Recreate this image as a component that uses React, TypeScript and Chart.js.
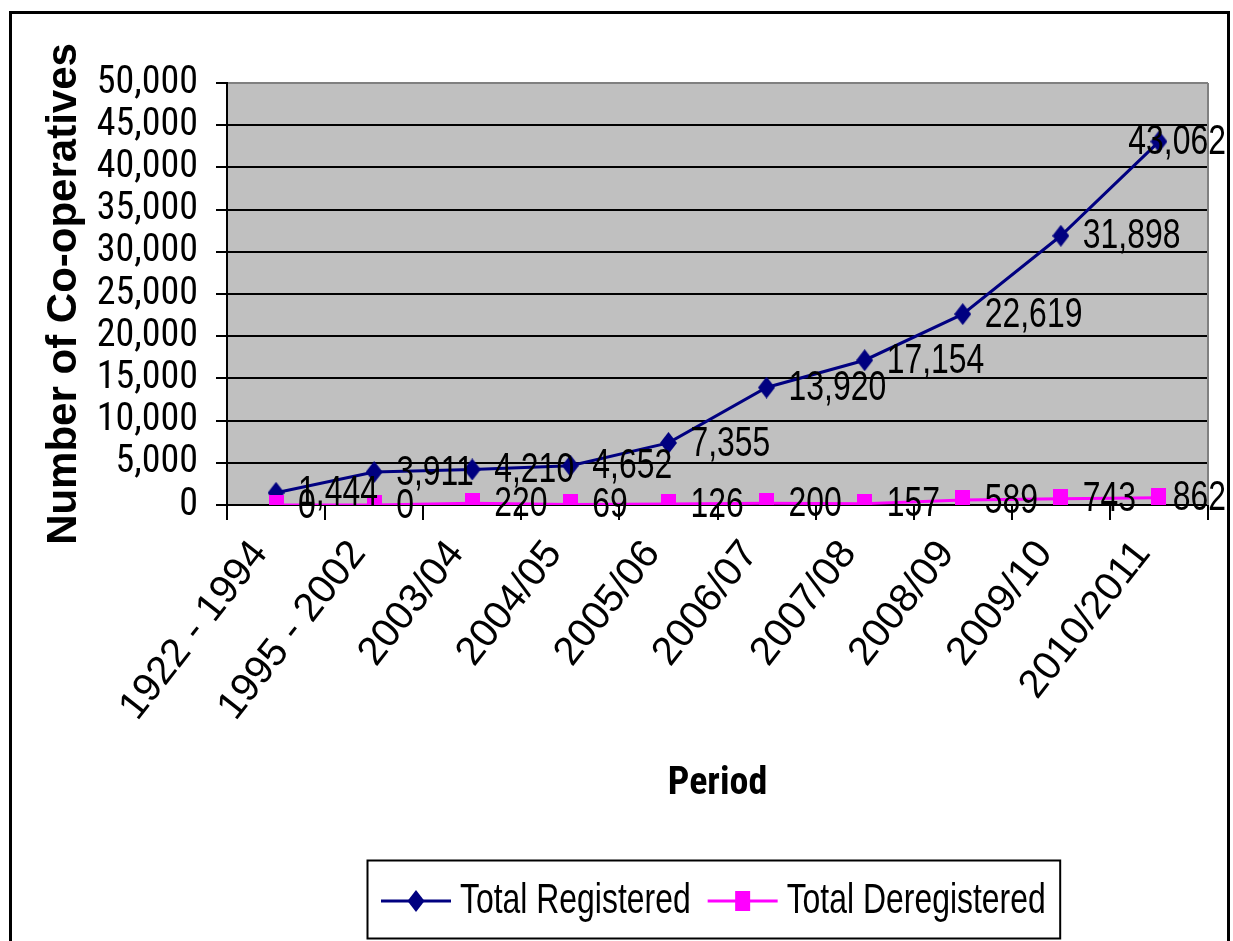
import React, { useEffect, useRef } from 'react';
import { Chart, registerables } from 'chart.js';

Chart.register(...registerables);

const periods = ['1922 - 1994', '1995 - 2002', '2003/04', '2004/05', '2005/06', '2006/07', '2007/08', '2008/09', '2009/10', '2010/2011'];
const registered = [1444, 3911, 4210, 4652, 7355, 13920, 17154, 22619, 31898, 43062];
const deregistered = [0, 0, 220, 69, 126, 200, 157, 589, 743, 862];
const seriesNames = ['Total Registered', 'Total Deregistered'];
const yMin = 0;
const yMax = 50000;
const yStep = 5000;

const COND = "'Roboto Condensed', 'DejaVu Sans Condensed', sans-serif";
const SANS = "'Liberation Sans', Arial, sans-serif";
const NAVY = '#000080';
const MAGENTA = '#FF00FF';
const TEXT_SIZE = 42;
const SX = 0.76;

const fmt = (v: number) => Number(v).toLocaleString('en-US');

function scaledText(ctx: CanvasRenderingContext2D, text: string, x: number, y: number) {
  ctx.save();
  ctx.translate(x, y);
  ctx.scale(SX, 1);
  ctx.fillText(text, 0, 0);
  ctx.restore();
}

function drawMarker(ctx: CanvasRenderingContext2D, kind: string, x: number, y: number, color: string) {
  ctx.fillStyle = color;
  ctx.beginPath();
  if (kind === 'diamond') {
    ctx.moveTo(x, y - 11);
    ctx.lineTo(x + 8.5, y);
    ctx.lineTo(x, y + 11);
    ctx.lineTo(x - 8.5, y);
    ctx.closePath();
  } else {
    ctx.rect(x - 7.5, y - 10, 15, 20);
  }
  ctx.fill();
}

function makeMarker(kind: string, color: string): HTMLCanvasElement {
  const c = document.createElement('canvas');
  c.width = kind === 'diamond' ? 17 : 15;
  c.height = kind === 'diamond' ? 22 : 20;
  const ctx = c.getContext('2d')!;
  drawMarker(ctx, kind, c.width / 2, c.height / 2, color);
  return c;
}

const framePlugin = {
  id: 'frame',
  beforeDraw(chart: any) {
    const { ctx, chartArea: a } = chart;
    ctx.save();
    ctx.fillStyle = '#ffffff';
    ctx.fillRect(0, 0, chart.width, chart.height);
    ctx.fillStyle = '#C0C0C0';
    ctx.fillRect(a.left, a.top, a.right - a.left, a.bottom - a.top);
    ctx.restore();
  },
  beforeDatasetsDraw(chart: any) {
    const { ctx, chartArea: a } = chart;
    ctx.save();
    ctx.strokeStyle = '#808080';
    ctx.lineWidth = 2;
    ctx.beginPath();
    ctx.moveTo(a.right, a.top);
    ctx.lineTo(a.right, a.bottom);
    ctx.stroke();
    ctx.restore();
  },
  afterDatasetsDraw(chart: any) {
    const { ctx } = chart;
    ctx.save();
    ctx.font = `${TEXT_SIZE}px ${SANS}`;
    ctx.fillStyle = '#000';
    ctx.textAlign = 'left';
    ctx.textBaseline = 'middle';
    chart.data.datasets.forEach((ds: any, i: number) => {
      const meta = chart.getDatasetMeta(i);
      meta.data.forEach((pt: any, j: number) => {
        const text = fmt(ds.data[j]);
        const w = ctx.measureText(text).width * SX;
        let x = pt.x + 22;
        const limit = chart.width - 7;
        if (x + w > limit) x = limit - w;
        scaledText(ctx, text, x, pt.y + 1);
      });
    });
    ctx.restore();
  },
  afterDraw(chart: any) {
    const { ctx, chartArea: a } = chart;
    ctx.save();
    // outer frame
    ctx.strokeStyle = '#000';
    ctx.lineWidth = 3;
    ctx.strokeRect(10.5, 12.5, 1218, 1000);

    // legend
    ctx.font = `${TEXT_SIZE}px ${SANS}`;
    const lineLen = 70;
    const gapText = 9;
    const gapItem = 17;
    const padX = 14;
    const items = chart.data.datasets.map((ds: any) => ({
      label: ds.label,
      color: ds.borderColor,
      kind: ds.markerKind,
      w: lineLen + gapText + ctx.measureText(ds.label).width * SX,
    }));
    const total = items.reduce((s: number, it: any) => s + it.w, 0) + gapItem * (items.length - 1) + padX * 2;
    const cx = (a.left + a.right) / 2 - 4;
    const left = Math.round(cx - total / 2);
    const top = chart.height - 81;
    const h = 78;
    ctx.lineWidth = 2;
    ctx.strokeStyle = '#000';
    ctx.strokeRect(left + 0.5, top + 0.5, total, h);
    const cy = top + 41;
    let x = left + padX;
    items.forEach((it: any) => {
      ctx.strokeStyle = it.color;
      ctx.lineWidth = 3;
      ctx.beginPath();
      ctx.moveTo(x, cy);
      ctx.lineTo(x + lineLen, cy);
      ctx.stroke();
      drawMarker(ctx, it.kind, x + lineLen / 2, cy, it.color);
      ctx.fillStyle = '#000';
      ctx.textAlign = 'left';
      ctx.textBaseline = 'middle';
      scaledText(ctx, it.label, x + lineLen + gapText, cy);
      x += it.w + gapItem;
    });
    ctx.restore();
  },
};

export default function App() {
  const ref = useRef<HTMLCanvasElement | null>(null);

  useEffect(() => {
    if (!ref.current) return;
    const diamond = makeMarker('diamond', NAVY);
    const square = makeMarker('square', MAGENTA);
    const chart = new Chart(ref.current, {
      type: 'line',
      data: {
        labels: periods,
        datasets: [
          {
            label: seriesNames[0],
            data: registered,
            markerKind: 'diamond',
            borderColor: NAVY,
            backgroundColor: NAVY,
            borderWidth: 3,
            pointStyle: diamond,
            pointRadius: 10,
            tension: 0,
            order: 1,
          },
          {
            label: seriesNames[1],
            data: deregistered,
            markerKind: 'square',
            borderColor: MAGENTA,
            backgroundColor: MAGENTA,
            borderWidth: 3,
            pointStyle: square,
            pointRadius: 10,
            tension: 0,
            order: 0,
          },
        ],
      } as any,
      options: {
        responsive: true,
        maintainAspectRatio: false,
        animation: false,
        layout: { padding: { top: 83, right: 25, bottom: 134, left: 0 } },
        plugins: {
          legend: { display: false },
          tooltip: { enabled: false },
        },
        scales: {
          x: {
            type: 'category',
            offset: true,
            grid: { offset: true, drawOnChartArea: false, drawTicks: true, tickLength: 15, color: '#000', lineWidth: 2 },
            border: { display: true, color: '#000', width: 2 },
            ticks: {
              autoSkip: false,
              minRotation: 52,
              maxRotation: 52,
              font: { family: SANS, size: 40 },
              color: '#000',
              padding: 12,
              labelOffset: -16,
            },
            title: {
              display: true,
              text: 'Period',
              font: { family: COND, size: 38, weight: 'bold' },
              color: '#000',
              padding: 0,
            },
            afterFit: (s: any) => {
              s.height = 302;
            },
          },
          y: {
            min: yMin,
            max: yMax,
            ticks: {
              stepSize: yStep,
              autoSkip: false,
              maxTicksLimit: 20,
              callback: (v: any) => fmt(v),
              font: { family: COND, size: 38, lineHeight: 0.8 },
              color: '#000',
              padding: 18,
            },
            grid: {
              color: (c: any) => (c.tick && c.tick.value === yMax ? '#808080' : '#000'),
              tickColor: '#000',
              lineWidth: 2,
              tickLength: 11,
            },
            border: { color: '#000', width: 2 },
            title: {
              display: true,
              text: 'Number of Co-operatives',
              font: { family: SANS, size: 42, weight: 'bold' },
              color: '#000',
              padding: { top: 39, bottom: 0 },
            },
            afterFit: (s: any) => {
              s.width = 227;
            },
          },
        },
      } as any,
      plugins: [framePlugin],
    });
    return () => chart.destroy();
  }, []);

  return (
    <div style={{ position: 'absolute', left: 0, top: 0, width: 1233, height: 941 }}>
      <canvas ref={ref} />
    </div>
  );
}
